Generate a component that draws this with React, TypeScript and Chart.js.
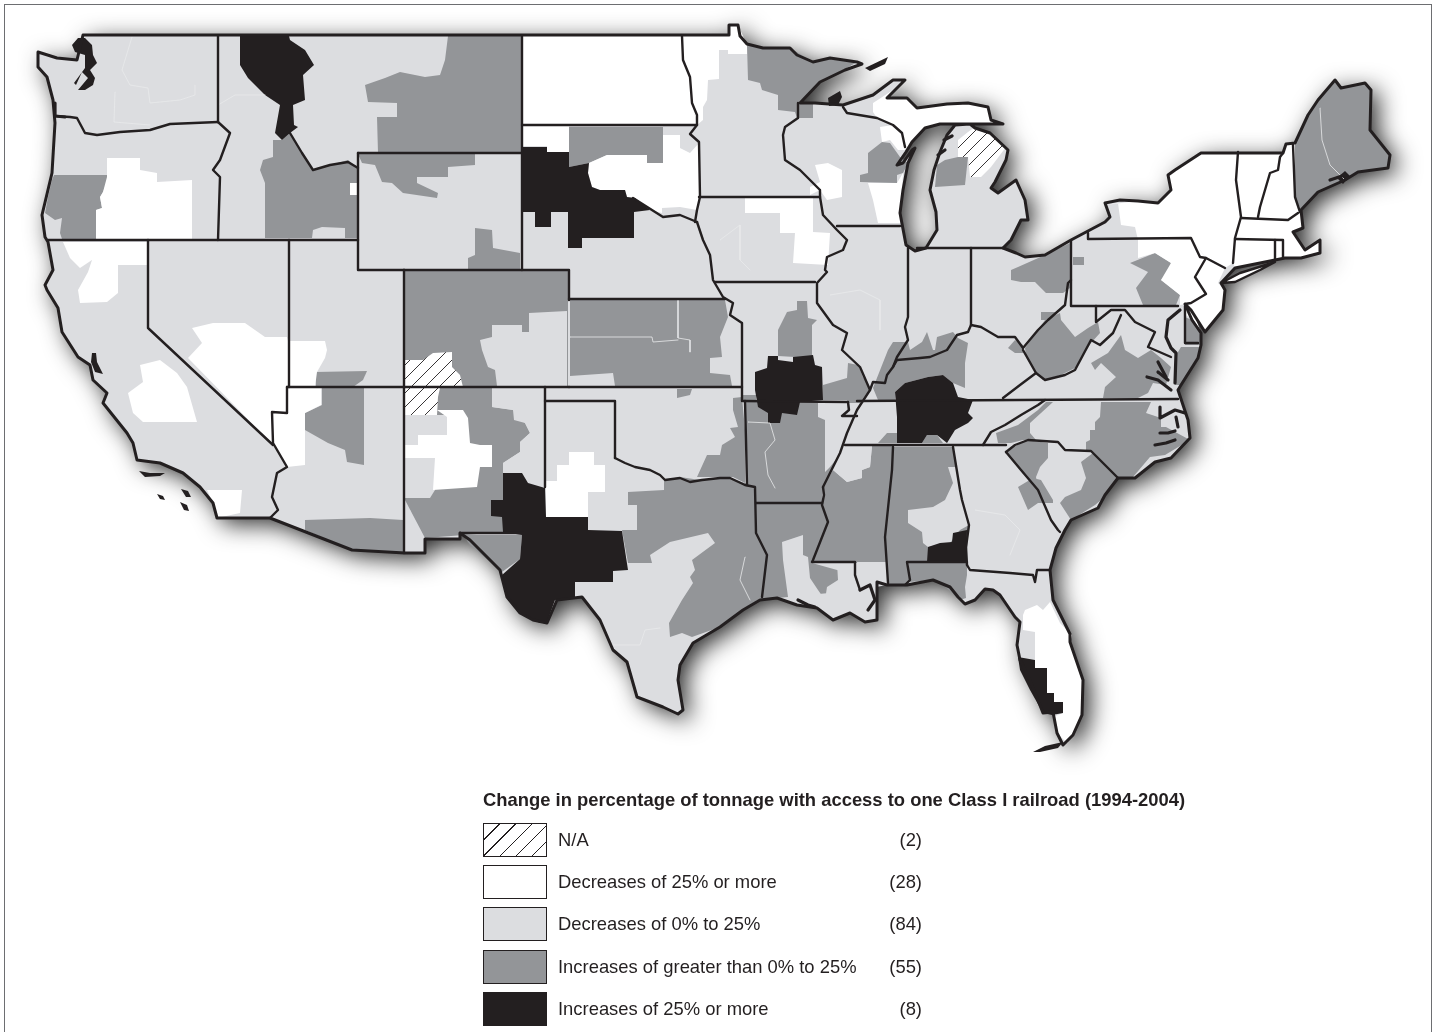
import React, { useEffect, useRef } from "react";
import { Chart, registerables } from "chart.js";

Chart.register(...registerables);

type Pt = [number, number];

const legendTitle = "Change in percentage of tonnage with access to one Class I railroad (1994-2004)";
const legendLabels = ["N/A", "Decreases of 25% or more", "Decreases of 0% to 25%", "Increases of greater than 0% to 25%", "Increases of 25% or more"];
const legendCounts = ["(2)", "(28)", "(84)", "(55)", "(8)"];

const usOutline: Pt[] = [[38,52],[57,58],[77,60],[83,35],[729,35],[729,25],[738,25],[740,36],[747,44],[763,48],[790,48],[797,55],[813,62],[830,58],[857,62],[862,64],[845,70],[820,82],[800,103],[815,103],[843,105],[873,95],[893,80],[905,80],[887,98],[907,98],[917,108],[947,104],[968,103],[988,107],[991,120],[1003,124],[978,124],[940,124],[925,128],[912,142],[906,152],[897,165],[903,163],[912,150],[915,148],[908,163],[903,190],[900,213],[906,245],[915,251],[926,248],[937,230],[936,212],[930,190],[934,170],[940,152],[947,135],[955,125],[970,124],[975,128],[990,133],[1008,150],[1006,160],[995,182],[991,188],[998,193],[1016,180],[1025,200],[1028,220],[1021,220],[1011,240],[1003,248],[1016,253],[1025,257],[1045,255],[1071,240],[1105,222],[1110,217],[1105,203],[1120,200],[1138,201],[1158,203],[1171,190],[1168,175],[1175,170],[1201,153],[1238,153],[1283,153],[1286,144],[1295,143],[1308,115],[1318,100],[1335,80],[1341,88],[1365,83],[1371,90],[1370,130],[1378,140],[1390,155],[1388,168],[1358,172],[1345,180],[1318,192],[1301,210],[1303,228],[1293,232],[1305,250],[1320,240],[1320,253],[1301,258],[1285,258],[1235,268],[1221,283],[1225,290],[1223,310],[1205,332],[1191,310],[1185,304],[1192,320],[1201,333],[1201,345],[1198,358],[1181,385],[1178,390],[1188,420],[1190,438],[1171,458],[1155,462],[1135,478],[1118,478],[1105,495],[1098,508],[1071,520],[1065,530],[1056,548],[1050,570],[1053,600],[1070,634],[1070,642],[1083,680],[1082,715],[1073,735],[1063,745],[1057,733],[1053,712],[1043,713],[1030,680],[1020,660],[1017,645],[1020,622],[1015,617],[1000,595],[993,590],[985,589],[975,600],[965,604],[958,597],[950,587],[933,580],[907,585],[887,585],[877,582],[877,620],[865,622],[850,613],[833,620],[817,608],[797,605],[777,598],[760,600],[743,610],[720,627],[693,643],[680,665],[678,680],[683,710],[678,714],[663,707],[637,697],[627,662],[613,650],[600,620],[582,597],[557,600],[547,623],[533,620],[520,613],[507,597],[500,570],[470,540],[460,533],[460,539],[425,539],[425,553],[405,553],[352,550],[270,518],[217,518],[213,503],[200,487],[183,473],[160,463],[137,460],[133,443],[127,433],[103,403],[107,393],[93,380],[90,365],[78,357],[62,332],[58,308],[47,290],[45,285],[53,270],[48,242],[45,237],[42,215],[52,173],[55,123],[53,100],[47,77],[38,67]];

const grayOregon: Pt[] = [[54,175],[107,175],[107,182],[103,192],[100,197],[102,208],[96,210],[96,239],[62,239],[60,233],[62,218],[55,220],[45,213],[48,197],[52,180]];
const grayMontana: Pt[] = [[448,36],[521,36],[521,153],[378,153],[377,117],[397,117],[397,103],[368,102],[365,85],[385,78],[400,72],[425,77],[440,75],[445,60]];
const grayIdaho: Pt[] = [[273,140],[282,140],[290,133],[302,153],[313,170],[348,160],[358,168],[358,238],[345,238],[345,228],[322,227],[313,230],[312,238],[265,238],[265,183],[260,170],[263,160],[273,157]];
const grayWyomingNorth: Pt[] = [[358,154],[475,154],[475,165],[448,167],[448,177],[417,177],[417,183],[438,193],[437,198],[403,193],[392,183],[382,182],[375,165],[362,163]];
const grayWyomingSouth: Pt[] = [[475,228],[492,230],[493,248],[520,253],[520,269],[468,269],[468,258],[475,255]];
const grayColorado: Pt[] = [[405,271],[568,271],[568,387],[405,387]];
const grayUtah: Pt[] = [[315,372],[367,371],[363,380],[353,387],[316,387]];
const grayArizonaNorth: Pt[] = [[322,388],[364,388],[364,465],[347,462],[345,450],[328,443],[305,430],[305,413],[322,405]];
const grayArizonaSouth: Pt[] = [[305,520],[370,518],[403,520],[403,553],[352,550],[305,530]];
const grayNewMexico: Pt[] = [[405,388],[492,388],[492,407],[513,410],[514,420],[525,423],[530,433],[520,442],[520,452],[503,463],[503,532],[425,538],[405,500]];
const grayTexasWest: Pt[] = [[463,535],[522,535],[520,559],[502,572],[470,545]];
const grayTexasCentral: Pt[] = [[628,492],[664,490],[664,480],[680,477],[700,480],[730,478],[756,487],[757,533],[767,555],[762,597],[743,610],[720,627],[692,637],[682,633],[670,637],[669,623],[682,600],[693,583],[690,577],[695,570],[692,560],[715,543],[708,533],[670,542],[650,555],[652,563],[628,563],[622,530],[637,530],[637,505],[628,505]];
const grayKansas: Pt[] = [[570,300],[725,300],[728,317],[720,337],[722,357],[710,358],[710,373],[730,375],[732,386],[615,386],[613,373],[570,376]];
const grayOklahomaNorth: Pt[] = [[677,389],[692,389],[690,395],[677,398]];
const grayOklahomaEast: Pt[] = [[733,398],[742,397],[745,430],[745,483],[733,477],[713,477],[697,477],[707,455],[720,455],[722,445],[735,437],[730,428],[738,427],[733,410]];
const grayMissouriNorth: Pt[] = [[778,356],[778,330],[787,312],[797,310],[797,301],[807,301],[808,318],[817,320],[812,325],[812,358]];
const grayMissouriWest: Pt[] = [[743,395],[756,395],[756,401],[743,401]];
const grayMissouriEast: Pt[] = [[823,385],[847,378],[848,363],[858,365],[863,377],[870,388],[860,403],[848,403],[847,400],[823,400]];
const grayArkansas: Pt[] = [[745,402],[848,402],[848,413],[842,417],[857,415],[847,433],[840,453],[823,487],[822,503],[756,503],[755,487],[747,485]];
const grayLouisiana: Pt[] = [[756,503],[822,503],[828,522],[813,560],[812,562],[857,562],[860,590],[757,600],[762,597],[767,555],[757,533]];
const grayMississippi: Pt[] = [[833,470],[847,482],[862,478],[862,470],[870,467],[872,446],[893,446],[892,470],[887,562],[812,562],[828,522],[823,505],[823,487]];
const grayAlabama: Pt[] = [[893,447],[953,447],[962,500],[969,525],[966,562],[907,562],[910,580],[905,585],[887,585],[885,540]];
const grayFlorida: Pt[] = [[908,562],[967,562],[967,575],[965,587],[966,598],[960,600],[943,585],[933,580],[910,582]];
const grayKentuckyWest: Pt[] = [[888,350],[893,342],[908,342],[910,350],[922,342],[927,332],[933,350],[935,350],[937,337],[953,332],[958,338],[968,343],[965,363],[965,388],[953,383],[943,375],[928,377],[905,383],[895,392],[895,400],[878,400],[873,388]];
const grayKentuckyEast: Pt[] = [[1008,348],[1015,340],[1023,345],[1023,353],[1015,353]];
const grayTennesseeA: Pt[] = [[878,443],[887,433],[897,433],[897,443]];
const grayTennesseeB: Pt[] = [[922,443],[927,435],[937,435],[943,443]];
const grayWestVirginia: Pt[] = [[1025,348],[1045,320],[1060,313],[1061,320],[1075,337],[1088,328],[1098,322],[1100,333],[1091,343],[1075,368],[1061,375],[1043,380],[1036,372],[1026,357]];
const grayOhio: Pt[] = [[1018,267],[1045,255],[1070,243],[1070,288],[1063,293],[1046,293],[1035,282],[1021,282],[1011,280],[1011,270]];
const grayOhioSouth: Pt[] = [[1041,312],[1058,312],[1048,320],[1041,320]];
const grayPennWest: Pt[] = [[1073,257],[1084,257],[1084,265],[1073,265]];
const grayPennEast: Pt[] = [[1130,263],[1155,253],[1171,263],[1168,275],[1161,280],[1180,295],[1176,305],[1143,305],[1136,288],[1148,272]];
const grayVermont: Pt[] = [[1240,153],[1273,153],[1273,170],[1261,183],[1240,187],[1238,180]];
const grayMaine: Pt[] = [[1295,143],[1308,115],[1318,100],[1335,80],[1341,88],[1365,83],[1371,90],[1370,130],[1378,140],[1390,155],[1388,168],[1358,172],[1345,180],[1318,192],[1301,210],[1295,197]];
const grayDelaware: Pt[] = [[1185,317],[1192,320],[1201,333],[1201,345],[1185,345]];
const grayDelmarva: Pt[] = [[1181,347],[1201,347],[1198,358],[1181,385],[1175,385],[1175,357]];
const grayVirginia: Pt[] = [[1121,335],[1125,350],[1138,358],[1151,350],[1161,358],[1171,367],[1166,385],[1153,383],[1148,393],[1138,398],[1103,398],[1105,387],[1116,377],[1101,363],[1095,370],[1091,363],[1108,353]];
const grayNorthCarolina: Pt[] = [[1101,402],[1151,402],[1146,413],[1161,418],[1161,427],[1166,427],[1190,440],[1165,455],[1150,457],[1133,477],[1118,478],[1093,452],[1086,450],[1086,442],[1090,440],[1090,430],[1095,430],[1095,422],[1100,417]];
const grayNorthCarolinaWest: Pt[] = [[996,433],[1018,425],[1038,410],[1046,402],[1053,402],[1041,413],[1030,423],[1030,433],[1036,440],[1023,440],[1011,443],[998,443]];
const graySouthCarolinaWest: Pt[] = [[1006,452],[1026,440],[1048,443],[1048,458],[1040,467],[1036,477],[1038,490],[1021,470]];
const grayGeorgia: Pt[] = [[1018,487],[1033,478],[1041,480],[1053,500],[1053,503],[1038,503],[1028,510]];
const graySouthCarolinaEast: Pt[] = [[1081,462],[1093,453],[1118,478],[1101,500],[1095,505],[1071,520],[1060,503],[1065,497],[1081,490],[1086,478]];
const grayMinnesota: Pt[] = [[747,45],[763,48],[790,48],[813,62],[830,58],[857,62],[847,68],[820,82],[800,103],[813,103],[813,118],[797,118],[795,112],[778,110],[778,95],[762,90],[760,83],[748,80]];
const grayNorthDakotaA: Pt[] = [[523,86],[530,86],[532,103],[523,107]];
const grayNorthDakotaB: Pt[] = [[547,115],[560,115],[568,118],[568,124],[547,124]];
const grayNorthDakotaC: Pt[] = [[587,122],[598,112],[603,112],[603,124]];
const graySouthDakota: Pt[] = [[569,127],[663,127],[663,163],[647,163],[647,155],[607,155],[589,163],[569,167]];
const grayWisconsin: Pt[] = [[868,153],[882,142],[890,143],[900,157],[908,163],[903,173],[897,175],[897,183],[860,182],[860,175],[868,173]];
const grayMichigan: Pt[] = [[937,165],[945,160],[958,157],[968,157],[965,185],[935,187]];

const lightColorado: Pt[] = [[480,340],[492,337],[492,325],[522,325],[522,332],[529,332],[529,313],[567,311],[567,386],[497,386],[495,370],[488,367],[482,350]];
const lightNewMexicoEast: Pt[] = [[492,390],[543,390],[543,487],[528,483],[522,473],[503,473],[503,463],[520,452],[520,442],[530,433],[525,423],[513,410],[492,407]];
const lightNewMexicoWest: Pt[] = [[405,415],[447,415],[447,435],[418,435],[418,445],[405,445]];
const lightNewMexicoSouth: Pt[] = [[405,458],[435,458],[435,490],[430,498],[405,498]];
const lightNewMexicoBoot: Pt[] = [[405,510],[410,510],[417,535],[425,540],[425,553],[405,553]];
const lightLouisiana: Pt[] = [[782,542],[803,535],[803,555],[808,557],[810,578],[818,590],[825,600],[827,587],[838,580],[837,563],[857,563],[853,572],[860,583],[877,580],[877,620],[850,613],[833,620],[817,608],[797,605],[788,597],[783,560]];
const lightMississippiSouth: Pt[] = [[812,563],[887,563],[887,585],[860,590],[855,575]];
const lightMississippiNorth: Pt[] = [[845,446],[872,446],[870,467],[862,470],[862,478],[847,482],[833,470]];
const lightArkansas: Pt[] = [[818,403],[847,402],[848,413],[842,417],[857,417],[847,433],[842,452],[830,467],[825,472],[825,420],[818,417]];
const lightAlabama: Pt[] = [[908,510],[933,507],[945,500],[953,483],[948,467],[957,467],[960,490],[969,525],[960,530],[950,543],[928,547],[923,543],[922,532],[908,523]];

const whiteOregon: Pt[] = [[107,158],[140,158],[140,170],[157,173],[157,182],[192,180],[192,239],[96,239],[96,210],[102,208],[100,197],[103,192],[107,177]];
const whiteCaliforniaNorth: Pt[] = [[63,242],[147,242],[147,265],[118,265],[118,293],[107,302],[80,303],[78,290],[88,272],[92,260],[80,268],[70,258]];
const whiteNevada: Pt[] = [[192,328],[213,323],[245,323],[265,337],[287,337],[288,341],[325,341],[327,350],[325,358],[317,372],[315,387],[287,387],[287,413],[275,412],[273,445],[188,358],[202,343]];
const whiteCaliforniaCentral: Pt[] = [[140,365],[160,360],[177,373],[187,387],[197,422],[143,422],[133,413],[128,393],[143,382]];
const whiteCaliforniaSouth: Pt[] = [[207,490],[242,490],[240,513],[217,518],[213,503]];
const whiteArizona: Pt[] = [[288,388],[321,388],[321,405],[305,413],[305,465],[287,467],[273,445],[272,412],[288,413]];
const whiteIdaho: Pt[] = [[350,183],[358,183],[358,195],[350,195]];
const whiteNewMexico: Pt[] = [[418,435],[447,435],[447,417],[437,410],[463,410],[468,418],[470,443],[480,445],[492,445],[492,467],[480,467],[477,487],[433,490],[435,458],[405,458],[405,445],[418,445]];
const whiteTexas: Pt[] = [[546,481],[557,481],[557,465],[569,465],[569,452],[594,452],[594,465],[605,465],[605,492],[588,492],[588,517],[546,517]];
const whiteFlorida: Pt[] = [[1025,610],[1037,605],[1043,610],[1050,602],[1060,623],[1072,635],[1070,643],[1083,680],[1082,707],[1078,723],[1067,743],[1057,733],[1053,717],[1063,713],[1063,702],[1054,702],[1054,693],[1047,693],[1047,668],[1035,668],[1035,660],[1035,632],[1023,630],[1023,615]];
const whiteMinnesota: Pt[] = [[682,36],[729,36],[729,25],[738,25],[747,45],[747,54],[728,54],[728,50],[719,50],[719,79],[708,80],[707,100],[703,107],[703,120],[697,125],[692,103],[690,77],[683,60]];
const whiteNorthDakota: Pt[] = [[522,36],[682,36],[683,60],[690,77],[692,103],[697,125],[522,125]];
const whiteSouthDakotaNorth: Pt[] = [[522,126],[569,126],[569,152],[547,152],[547,146],[522,146]];
const whiteSouthDakotaEast: Pt[] = [[589,163],[607,155],[647,155],[647,163],[663,163],[663,135],[680,135],[680,148],[690,153],[699,143],[700,197],[697,210],[680,207],[662,208],[662,213],[650,210],[635,198],[627,197],[625,190],[600,190],[592,187],[588,173]];
const whiteIowa: Pt[] = [[745,198],[813,198],[813,232],[830,233],[828,265],[793,263],[795,233],[780,233],[780,213],[745,213]];
const whiteWisconsinWest: Pt[] = [[815,165],[828,163],[842,170],[842,197],[827,200],[820,190],[810,195],[810,187],[820,182]];
const whiteWisconsinEast: Pt[] = [[868,183],[897,183],[903,173],[900,223],[878,223],[873,200]];
const whiteWisconsinNorth: Pt[] = [[880,127],[893,125],[902,133],[905,150],[898,150],[890,140],[882,142]];
const whiteUpperPeninsula: Pt[] = [[873,103],[893,90],[905,80],[887,98],[907,98],[917,108],[947,104],[968,103],[988,107],[991,120],[1003,124],[978,124],[940,124],[925,128],[912,142],[905,150],[902,133],[893,125],[877,118],[873,112]];
const whiteNewYork: Pt[] = [[1105,205],[1138,201],[1158,203],[1171,190],[1168,175],[1201,153],[1238,153],[1236,180],[1241,217],[1235,238],[1233,263],[1225,268],[1206,258],[1191,238],[1138,240],[1135,227],[1121,225],[1118,203]];
const whitePennsylvania: Pt[] = [[1138,240],[1191,238],[1206,258],[1195,277],[1206,294],[1191,303],[1180,305],[1180,295],[1161,280],[1171,263],[1155,253],[1138,258]];
const whiteNewEngland: Pt[] = [[1238,153],[1283,153],[1286,144],[1295,143],[1295,197],[1300,212],[1303,228],[1293,232],[1305,250],[1320,240],[1320,253],[1301,258],[1285,258],[1235,268],[1233,263]];
const whiteNewJersey: Pt[] = [[1206,258],[1225,268],[1218,283],[1225,290],[1223,310],[1205,332],[1191,310],[1185,304],[1206,294],[1195,277]];
const whiteDelaware: Pt[] = [[1185,305],[1192,308],[1200,330],[1192,318],[1185,315]];
const whiteLongIsland: Pt[] = [[1221,283],[1240,273],[1275,262],[1260,270],[1235,282]];

const hatchColorado: Pt[] = [[405,360],[423,360],[433,353],[452,352],[452,367],[460,375],[463,387],[405,387]];
const hatchNewMexico: Pt[] = [[405,388],[440,388],[438,397],[437,415],[405,415]];
const hatchMichigan: Pt[] = [[958,140],[968,132],[975,127],[990,133],[1006,147],[991,167],[981,177],[970,177],[968,157],[958,157]];

const blackMontana: Pt[] = [[240,36],[289,36],[290,40],[305,50],[314,65],[303,75],[305,100],[293,105],[294,125],[298,127],[290,133],[282,140],[275,133],[280,105],[265,95],[248,78],[240,65]];
const blackMissouri: Pt[] = [[755,372],[767,368],[768,356],[778,356],[778,360],[793,362],[793,357],[813,355],[815,365],[822,367],[823,400],[800,402],[797,415],[782,413],[780,423],[768,423],[768,413],[758,407],[755,390]];
const blackTexas: Pt[] = [[503,473],[522,473],[528,483],[545,488],[546,517],[588,517],[588,530],[622,531],[628,570],[613,571],[613,582],[575,582],[575,598],[555,600],[547,622],[540,623],[523,615],[508,600],[502,575],[520,559],[522,535],[503,532],[502,517],[491,516],[491,500],[503,500]];
const blackSouthDakota: Pt[] = [[522,147],[547,147],[547,152],[569,152],[569,167],[589,163],[588,173],[592,187],[600,190],[625,190],[627,197],[635,198],[650,210],[634,212],[634,238],[582,238],[582,248],[568,248],[568,212],[551,212],[551,227],[535,227],[535,212],[522,212]];
const blackKentucky: Pt[] = [[895,392],[905,383],[928,377],[943,375],[953,383],[958,397],[973,400],[968,413],[973,418],[968,423],[955,430],[947,443],[937,435],[927,435],[922,443],[897,443],[897,417]];
const blackAlabama: Pt[] = [[928,547],[940,543],[952,542],[953,533],[967,530],[966,562],[927,562]];
const blackFlorida: Pt[] = [[1018,657],[1035,660],[1035,668],[1047,668],[1047,693],[1054,693],[1054,702],[1063,702],[1063,713],[1052,715],[1043,713],[1030,690],[1020,670]];
const blackPuget: Pt[] = [[72,45],[78,38],[85,38],[92,45],[93,55],[97,63],[90,70],[95,78],[93,85],[85,90],[78,90],[88,78],[82,72],[76,85],[74,83],[85,68],[85,55],[75,52]];
const blackApostle: Pt[] = [[828,98],[840,91],[842,97],[838,105],[829,106]];
const blackChannelA: Pt[] = [[139,471],[150,473],[165,473],[160,476],[145,477]];
const blackIslandA: Pt[] = [[157,494],[163,496],[165,500],[160,499]];
const blackIslandB: Pt[] = [[181,489],[188,491],[191,497],[186,497]];
const blackIslandC: Pt[] = [[180,502],[187,505],[189,511],[184,510]];
const blackKeys: Pt[] = [[1033,752],[1045,746],[1063,742],[1058,748],[1040,752]];
const blackIsleRoyale: Pt[] = [[865,68],[888,57],[885,64],[870,71]];
const blackBayArea: Pt[] = [[92,353],[96,353],[97,362],[103,374],[95,372],[91,362]];
const blackPenobscot: Pt[] = [[1337,178],[1345,171],[1350,176],[1343,184]];

const borderWaOr: Pt[] = [[55,116],[70,117],[77,118],[85,133],[97,135],[120,132],[150,130],[170,124],[218,122]];
const borderWaId: Pt[] = [[218,36],[218,122]];
const borderOrId: Pt[] = [[218,122],[230,133],[220,160],[213,170],[220,177],[218,240]];
const border42: Pt[] = [[48,240],[358,240]];
const borderMtId: Pt[] = [[290,133],[302,153],[313,170],[330,165],[348,162],[358,168]];
const borderWyWest: Pt[] = [[358,153],[358,270],[404,270]];
const borderWyNorth: Pt[] = [[358,153],[522,153]];
const borderMtDk: Pt[] = [[522,36],[522,270]];
const borderWySouth: Pt[] = [[404,270],[569,270],[569,300]];
const borderNvUt: Pt[] = [[289,240],[289,387]];
const borderCaNvA: Pt[] = [[148,240],[148,328],[273,445]];
const borderUtCo: Pt[] = [[404,270],[404,553]];
const borderAzTop: Pt[] = [[287,387],[569,387]];
const borderAzNv: Pt[] = [[287,387],[287,413],[272,412],[273,443],[287,467],[277,473],[272,497],[278,510],[270,518]];
const borderNdSd: Pt[] = [[522,125],[697,125]];
const borderSdNe: Pt[] = [[633,198],[663,217],[680,215],[697,222]];
const borderKsTop: Pt[] = [[569,299],[725,299]];
const borderMoWest: Pt[] = [[697,222],[703,240],[710,255],[713,280],[723,297],[733,303],[730,315],[742,323],[742,401]];
const borderKsSouth: Pt[] = [[569,387],[742,387]];
const borderOkWest: Pt[] = [[545,387],[545,487]];
const borderOkPan: Pt[] = [[545,401],[615,401],[615,458]];
const borderRedRiver: Pt[] = [[615,458],[625,463],[635,467],[650,470],[660,475],[665,480],[680,478],[690,482],[702,480],[720,478],[730,478],[745,485],[755,487],[756,533],[767,555],[762,597]];
const borderOkAr: Pt[] = [[745,401],[746,440],[747,485]];
const borderNmSouth: Pt[] = [[460,533],[523,533]];
const borderMoAr: Pt[] = [[743,401],[848,402],[849,410],[842,416],[857,416]];
const borderArLa: Pt[] = [[756,503],[822,503]];
const borderMississippiLower: Pt[] = [[823,487],[824,495],[822,505],[828,522],[813,560],[812,562],[855,562],[855,575],[860,590]];
const borderMississippiUpper: Pt[] = [[823,487],[840,453],[847,433],[857,410],[870,390],[860,367],[842,350],[847,333],[833,325],[817,303],[817,283],[827,272],[825,270],[827,257],[843,250],[847,240],[837,230],[823,215],[820,197]];
const borderIaMo: Pt[] = [[715,282],[815,282]];
const borderMnIa: Pt[] = [[699,197],[820,197]];
const borderMnDk: Pt[] = [[682,36],[683,60],[690,77],[692,103],[697,115],[697,125],[690,134],[699,142],[700,197],[697,210],[695,222]];
const borderMnWi: Pt[] = [[798,103],[798,118],[785,127],[783,135],[785,160],[800,170],[820,190],[820,197]];
const borderWiIl: Pt[] = [[837,226],[900,226]];
const borderIlIn: Pt[] = [[908,248],[908,317],[905,327],[908,340],[897,357],[893,367]];
const borderOhioRiver: Pt[] = [[870,390],[873,382],[885,383],[887,375],[893,367],[897,360],[920,358],[930,357],[947,350],[957,335],[968,332],[971,325],[981,327],[998,337],[1015,337],[1023,348],[1038,330],[1048,320],[1065,305],[1068,283],[1071,280]];
const borderInOh: Pt[] = [[971,248],[971,325]];
const borderMiSouth: Pt[] = [[917,248],[1003,248]];
const borderOhPa: Pt[] = [[1071,241],[1071,306],[1178,306]];
const borderNyPa: Pt[] = [[1088,233],[1088,239],[1191,238],[1200,257],[1206,258],[1225,268]];
const borderPaNj: Pt[] = [[1206,258],[1195,277],[1206,294],[1191,303],[1185,304]];
const borderNyVt: Pt[] = [[1238,152],[1236,180],[1241,217],[1235,238],[1233,263]];
const borderVtNh: Pt[] = [[1283,153],[1280,157],[1278,170],[1270,173],[1260,207],[1258,217]];
const borderMaNorth: Pt[] = [[1241,218],[1288,220],[1298,213]];
const borderNhMe: Pt[] = [[1293,145],[1295,197],[1300,212]];
const borderCtMa: Pt[] = [[1235,239],[1283,240],[1283,257]];
const borderCtRi: Pt[] = [[1275,240],[1275,260]];
const borderWvPan: Pt[] = [[1096,306],[1096,322],[1111,310],[1125,310],[1135,322],[1155,332],[1148,347],[1171,357]];
const borderWvVa: Pt[] = [[1121,315],[1113,333],[1100,345],[1091,340],[1075,370],[1065,375],[1045,380],[1036,373],[1023,350]];
const borderKyVa: Pt[] = [[1036,373],[1020,385],[1003,398]];
const borderTn: Pt[] = [[857,401],[1178,399]];
const borderTnNc: Pt[] = [[1045,400],[1038,405],[1021,415],[1005,425],[991,432],[983,445]];
const borderTnSouth: Pt[] = [[845,445],[1006,445]];
const borderNcSc: Pt[] = [[1006,452],[1015,445],[1028,440],[1058,442],[1065,450],[1091,451],[1118,478]];
const borderScGa: Pt[] = [[1006,452],[1021,470],[1038,490],[1051,520],[1058,530],[1060,532]];
const borderGaFl: Pt[] = [[967,565],[970,570],[1010,573],[1033,575],[1035,582],[1037,570],[1050,570]];
const borderAlGa: Pt[] = [[953,447],[960,490],[962,500],[969,525],[966,547],[967,565]];
const borderAlFl: Pt[] = [[967,562],[907,562],[910,580],[905,585]];
const borderAlMs: Pt[] = [[893,447],[892,470],[885,537],[888,583]];
const borderDelaware: Pt[] = [[1185,306],[1185,343],[1198,343]];
const borderMichiganUp: Pt[] = [[843,107],[847,113],[877,118],[893,125],[902,133],[905,147]];
const borderLongIsland: Pt[] = [[1221,283],[1240,273],[1275,262],[1260,270],[1235,282],[1221,283]];

const waterChesapeakeA: Pt[] = [[1180,310],[1168,320],[1166,337],[1171,348],[1176,353],[1175,383]];
const waterChesapeakeB: Pt[] = [[1147,377],[1158,380],[1171,390]];
const waterChesapeakeC: Pt[] = [[1158,372],[1168,380]];
const waterChesapeakeD: Pt[] = [[1158,362],[1166,377]];
const waterPamlicoA: Pt[] = [[1160,407],[1160,418],[1175,410],[1185,413]];
const waterPamlicoB: Pt[] = [[1176,417],[1178,427]];
const waterPamlicoC: Pt[] = [[1160,433],[1168,433],[1175,431]];
const waterPamlicoD: Pt[] = [[1155,445],[1166,443],[1175,440]];
const waterPenobscot: Pt[] = [[1330,180],[1345,175]];
const waterLakeIslandA: Pt[] = [[938,155],[945,150]];
const waterLakeIslandB: Pt[] = [[944,140],[952,136]];
const waterBarataria: Pt[] = [[860,590],[870,585],[875,600],[868,610]];
const waterVermilion: Pt[] = [[798,600],[808,605],[815,607]];
const waterColumbia: Pt[] = [[55,103],[55,116],[65,117]];

const countyKansasA: Pt[] = [[678,300],[678,338],[690,340],[690,352]];
const countyKansasB: Pt[] = [[570,337],[652,337],[653,342],[678,340]];
const countyWashingtonA: Pt[] = [[132,37],[125,60],[122,70],[130,85],[148,88],[150,103],[180,100],[195,95],[195,85]];
const countyWashingtonB: Pt[] = [[115,92],[114,122],[150,125]];
const countyIdahoA: Pt[] = [[218,105],[235,95],[265,95]];
const countyArkansasA: Pt[] = [[748,422],[770,423],[775,440],[765,452],[768,475],[775,488]];
const countyMissouriA: Pt[] = [[830,295],[860,290],[880,300],[880,330]];
const countyGeorgiaA: Pt[] = [[975,510],[1005,515],[1020,530],[1010,555]];
const countyTexasA: Pt[] = [[612,645],[640,645],[645,630],[660,628]];
const countyTexasB: Pt[] = [[745,557],[740,580],[750,600]];
const countyMaineA: Pt[] = [[1320,108],[1322,140],[1330,165],[1345,180]];
const countyIowaA: Pt[] = [[720,240],[740,225],[740,260],[750,270]];

const grayRegions = [grayOregon, grayMontana, grayIdaho, grayWyomingNorth, grayWyomingSouth, grayColorado, grayUtah, grayArizonaNorth, grayArizonaSouth, grayNewMexico, grayTexasWest, grayTexasCentral, grayKansas, grayOklahomaNorth, grayOklahomaEast, grayMissouriNorth, grayMissouriWest, grayMissouriEast, grayArkansas, grayLouisiana, grayMississippi, grayAlabama, grayFlorida, grayKentuckyWest, grayKentuckyEast, grayTennesseeA, grayTennesseeB, grayWestVirginia, grayOhio, grayOhioSouth, grayPennWest, grayPennEast, grayVermont, grayMaine, grayDelaware, grayDelmarva, grayVirginia, grayNorthCarolina, grayNorthCarolinaWest, graySouthCarolinaWest, grayGeorgia, graySouthCarolinaEast, grayMinnesota, grayNorthDakotaA, grayNorthDakotaB, grayNorthDakotaC, graySouthDakota, grayWisconsin, grayMichigan];
const lightRegions = [lightColorado, lightNewMexicoEast, lightNewMexicoWest, lightNewMexicoSouth, lightNewMexicoBoot, lightLouisiana, lightMississippiSouth, lightMississippiNorth, lightArkansas, lightAlabama];
const whiteRegions = [whiteOregon, whiteCaliforniaNorth, whiteNevada, whiteCaliforniaCentral, whiteCaliforniaSouth, whiteArizona, whiteIdaho, whiteNewMexico, whiteTexas, whiteFlorida, whiteMinnesota, whiteNorthDakota, whiteSouthDakotaNorth, whiteSouthDakotaEast, whiteIowa, whiteWisconsinWest, whiteWisconsinEast, whiteWisconsinNorth, whiteUpperPeninsula, whiteNewYork, whitePennsylvania, whiteNewEngland, whiteNewJersey, whiteDelaware, whiteLongIsland];
const hatchRegions = [hatchColorado, hatchNewMexico, hatchMichigan];
const blackRegions = [blackMontana, blackMissouri, blackTexas, blackSouthDakota, blackKentucky, blackAlabama, blackFlorida, blackPuget, blackApostle, blackChannelA, blackIslandA, blackIslandB, blackIslandC, blackKeys, blackIsleRoyale, blackBayArea, blackPenobscot];
const stateBorders = [borderWaOr, borderWaId, borderOrId, border42, borderMtId, borderWyWest, borderWyNorth, borderMtDk, borderWySouth, borderNvUt, borderCaNvA, borderUtCo, borderAzTop, borderAzNv, borderNdSd, borderSdNe, borderKsTop, borderMoWest, borderKsSouth, borderOkWest, borderOkPan, borderRedRiver, borderOkAr, borderNmSouth, borderMoAr, borderArLa, borderMississippiLower, borderMississippiUpper, borderIaMo, borderMnIa, borderMnDk, borderMnWi, borderWiIl, borderIlIn, borderOhioRiver, borderInOh, borderMiSouth, borderOhPa, borderNyPa, borderPaNj, borderNyVt, borderVtNh, borderMaNorth, borderNhMe, borderCtMa, borderCtRi, borderWvPan, borderWvVa, borderKyVa, borderTn, borderTnNc, borderTnSouth, borderNcSc, borderScGa, borderGaFl, borderAlGa, borderAlFl, borderAlMs, borderDelaware, borderMichiganUp, borderLongIsland];
const waterLines = [waterChesapeakeA, waterChesapeakeB, waterChesapeakeC, waterChesapeakeD, waterPamlicoA, waterPamlicoB, waterPamlicoC, waterPamlicoD, waterPenobscot, waterLakeIslandA, waterLakeIslandB, waterBarataria, waterVermilion, waterColumbia];
const countyLines = [countyKansasA, countyKansasB, countyWashingtonA, countyWashingtonB, countyIdahoA, countyArkansasA, countyMissouriA, countyGeorgiaA, countyTexasA, countyTexasB, countyMaineA, countyIowaA];

const INK = "#231f20";
const GRAY = "#939598";
const LIGHT = "#dcdde0";
const FONT = '"Liberation Sans", Arial, sans-serif';
const swatchFill = [
  "repeating-linear-gradient(135deg,#fff 0,#fff 10.5px,#231f20 10.5px,#231f20 11.4px)",
  "#fff",
  LIGHT,
  GRAY,
  INK,
];

const toPoints = (p: Pt[]) => p.map(([x, y]) => ({ x, y }));

function makeHatch(ctx: CanvasRenderingContext2D): CanvasPattern | string {
  const tile = document.createElement("canvas");
  tile.width = 14;
  tile.height = 14;
  const t = tile.getContext("2d");
  if (!t) return "#fff";
  t.fillStyle = "#fff";
  t.fillRect(0, 0, 14, 14);
  t.strokeStyle = INK;
  t.lineWidth = 0.9;
  t.beginPath();
  t.moveTo(-2, 16);
  t.lineTo(16, -2);
  t.moveTo(-2, 2);
  t.lineTo(2, -2);
  t.moveTo(12, 16);
  t.lineTo(16, 12);
  t.stroke();
  return ctx.createPattern(tile, "repeat") || "#fff";
}

const shadowPlugin = {
  id: "coastShadow",
  beforeDatasetsDraw(chart: any) {
    const metas = chart.getSortedVisibleDatasetMetas();
    const base = metas.find((m: any) => m.label === "United States");
    if (!base) return;
    const ctx = chart.ctx;
    ctx.save();
    ctx.shadowColor = "rgba(0,0,0,0.85)";
    ctx.shadowBlur = 24;
    ctx.shadowOffsetX = 7;
    ctx.shadowOffsetY = 6;
    ctx.fillStyle = "#fff";
    ctx.beginPath();
    base.dataset.path(ctx);
    ctx.closePath();
    ctx.fill();
    ctx.restore();
  },
};

export default function App() {
  const ref = useRef<HTMLCanvasElement>(null);
  useEffect(() => {
    const canvas = ref.current;
    if (!canvas) return;
    const ctx = canvas.getContext("2d");
    if (!ctx) return;
    const hatch = makeHatch(ctx);
    const area = (label: string, p: Pt[], color: any) => ({
      label,
      data: toPoints(p),
      showLine: true,
      fill: "shape",
      backgroundColor: color,
      borderWidth: 0,
      borderColor: "rgba(0,0,0,0)",
      pointRadius: 0,
      tension: 0,
    });
    const line = (label: string, p: Pt[], width: number, color: string) => ({
      label,
      data: toPoints(p),
      showLine: true,
      fill: false,
      borderWidth: width,
      borderColor: color,
      borderJoinStyle: "round",
      borderCapStyle: "round",
      pointRadius: 0,
      tension: 0,
    });
    // paint order, bottom layer first
    const layers: any[] = [
      area("United States", usOutline, LIGHT),
      ...grayRegions.map((p) => area("Increases of greater than 0% to 25%", p, GRAY)),
      ...lightRegions.map((p) => area("Decreases of 0% to 25%", p, LIGHT)),
      ...whiteRegions.map((p) => area("Decreases of 25% or more", p, "#ffffff")),
      ...hatchRegions.map((p) => area("N/A", p, hatch)),
      ...blackRegions.map((p) => area("Increases of 25% or more", p, INK)),
      ...countyLines.map((p) => line("county", p, 0.8, "#e9eaeb")),
      ...stateBorders.map((p) => line("state", p, 2.4, INK)),
      line("coast", [...usOutline, usOutline[0]], 3, INK),
      ...waterLines.map((p) => line("water", p, 3.2, INK)),
    ];
    const chart = new Chart(canvas, {
      type: "scatter",
      data: { datasets: layers.slice().reverse() },
      options: {
        animation: false,
        responsive: false,
        events: [],
        layout: { padding: 0 },
        scales: {
          x: { type: "linear", display: false, min: 0, max: 1438 },
          y: { type: "linear", display: false, min: 0, max: 1032, reverse: true },
        },
        plugins: {
          legend: { display: false },
          tooltip: { enabled: false },
          title: { display: false },
        },
      },
      plugins: [shadowPlugin],
    } as any);
    return () => chart.destroy();
  }, []);

  return (
    <div style={{ position: "absolute", left: 0, top: 0, width: 1438, height: 1032, overflow: "hidden", background: "#fff", fontFamily: FONT, color: INK }}>
      <canvas ref={ref} width={1438} height={1032} style={{ position: "absolute", left: 0, top: 0, width: 1438, height: 1032 }} />
      <div style={{ position: "absolute", left: 4, top: 4, width: 1428, height: 1040, border: "1.5px solid #6d6e71", boxSizing: "border-box" }} />
      <div style={{ position: "absolute", left: 483, top: 790, fontSize: 18.4, fontWeight: 700, whiteSpace: "nowrap", lineHeight: "20px" }}>{legendTitle}</div>
      {legendLabels.map((label, i) => {
        const top = 823 + i * 42.2;
        return (
          <React.Fragment key={label}>
            <div style={{ position: "absolute", left: 483, top, width: 64, height: 34, boxSizing: "border-box", border: "1px solid " + INK, background: swatchFill[i] }} />
            <div style={{ position: "absolute", left: 558, top: top + 7, fontSize: 18.4, lineHeight: "20px", whiteSpace: "nowrap" }}>{label}</div>
            <div style={{ position: "absolute", left: 862, width: 60, top: top + 7, fontSize: 18.4, lineHeight: "20px", textAlign: "right" }}>{legendCounts[i]}</div>
          </React.Fragment>
        );
      })}
    </div>
  );
}
